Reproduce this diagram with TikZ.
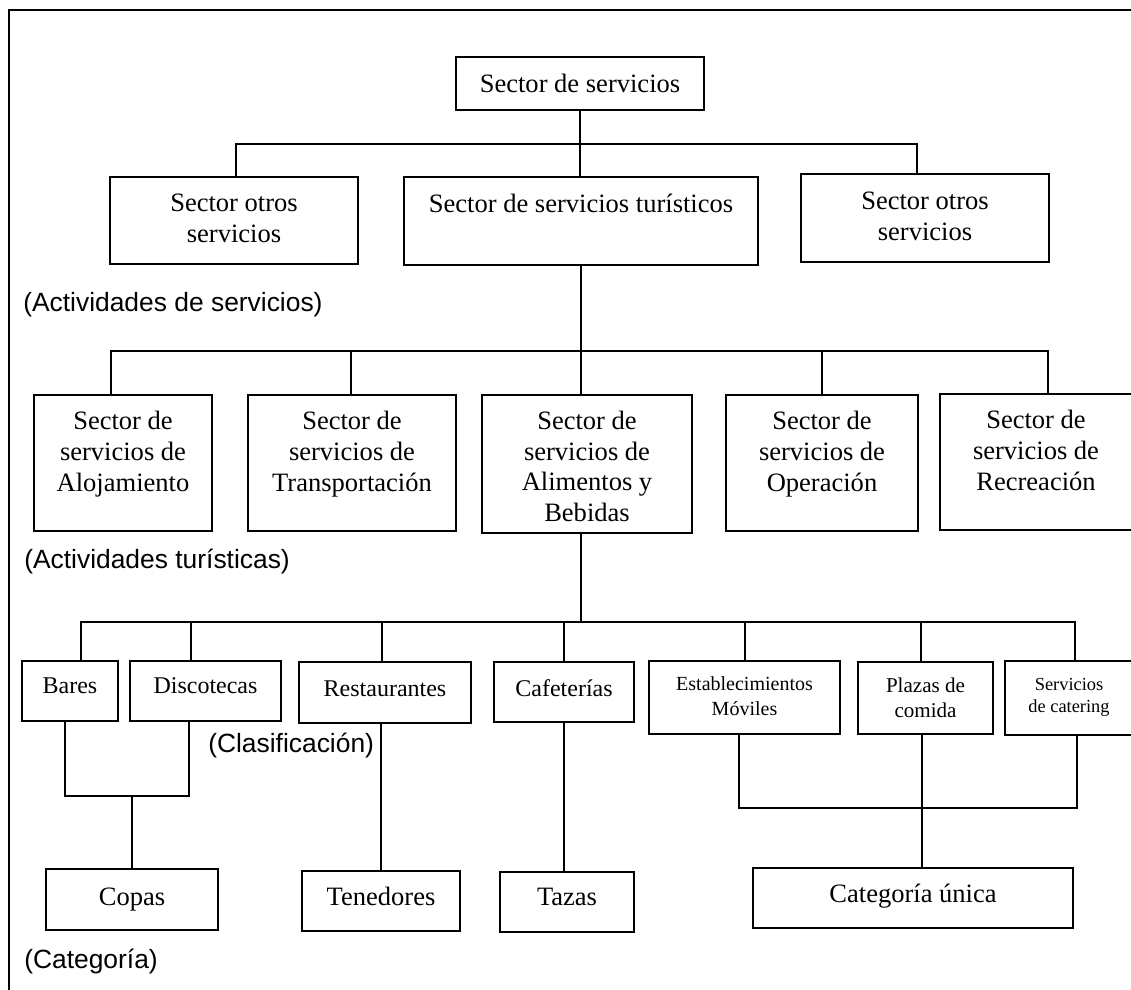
\documentclass[tikz,border=0pt]{standalone}
\usepackage{fontspec}
\setmainfont{Liberation Serif}
\setsansfont{Liberation Sans}
% a box given by its corners (in px units): name, x1, y1, x2, y2
\newcommand\cbox[5]{\node[box, minimum width={0.75pt*(#4-#2)}, minimum height={0.75pt*(#5-#3)}] (#1) at ({(#2+#4)/2},{(#3+#5)/2}) {};}
\begin{document}
\begin{tikzpicture}[x=0.75pt,y=-0.75pt,
  box/.style={draw, line width=0.8pt, inner sep=0pt},
  wire/.style={line width=1pt},
  frame/.style={line width=1.6pt},
  txt/.style={inner sep=0pt, align=center, anchor=base, font=\fontsize{19.9}{22.9}\selectfont},
  txtm/.style={txt, font=\fontsize{18}{20.7}\selectfont},
  txte/.style={txt, font=\fontsize{15}{18.75}\selectfont},
  txtp/.style={txt, font=\fontsize{15.8}{18.75}\selectfont},
  txtc/.style={txt, font=\fontsize{13.8}{16.5}\selectfont},
  note/.style={inner sep=0pt, anchor=base west, font=\sffamily\fontsize{19.8}{22.8}\selectfont}]
\useasboundingbox (0,0) rectangle (1131,989);
\clip (0,0) rectangle (1131,989);

% outer frame (runs past the page on the right and bottom)
\draw[frame] (9,10) rectangle (1200,1100);

% ---- boxes ----
\cbox{sds}{456}{57}{704}{110}
\cbox{otl}{110}{177}{358}{264}
\cbox{tur}{404}{177}{758}{265}
\cbox{otr}{801}{174}{1049}{262}

\cbox{alo}{34}{395}{212}{531}
\cbox{tra}{248}{395}{456}{531}
\cbox{ali}{482}{395}{692}{533}
\cbox{ope}{726}{395}{918}{531}
\cbox{rec}{940}{394}{1132}{530}

\cbox{bar}{22}{661}{118}{721}
\cbox{dis}{130}{661}{281}{721}
\cbox{res}{299}{662}{471}{723}
\cbox{caf}{494}{662}{634}{722}
\cbox{est}{649}{661}{840}{734}
\cbox{pla}{858}{662}{993}{734}
\cbox{cat}{1005}{661}{1133}{735}

\cbox{cop}{46}{869}{218}{930}
\cbox{ten}{302}{871}{460}{931}
\cbox{taz}{500}{872}{634}{932}
\cbox{uni}{753}{868}{1073}{928}

% ---- box texts (anchored at the baseline of the last line) ----
\node[txt] (sds-t) at (580,92) {Sector de servicios};
\node[txt] (otl-t) at (234,242.5) {Sector otros\\servicios};
\node[txt] (tur-t) at (581,212) {Sector de servicios turísticos};
\node[txt] (otr-t) at (925,240) {Sector otros\\servicios};

\node[txt] (alo-t) at (123,491) {Sector de\\servicios de\\Alojamiento};
\node[txt] (tra-t) at (352,491) {Sector de\\servicios de\\Transportación};
\node[txt] (ali-t) at (587,521.5) {Sector de\\servicios de\\Alimentos y\\Bebidas};
\node[txt] (ope-t) at (822,491) {Sector de\\servicios de\\Operación};
\node[txt] (rec-t) at (1036,490) {Sector de\\servicios de\\Recreación};

\node[txtm] (bar-t) at (70,693) {Bares};
\node[txtm] (dis-t) at (205.5,693) {Discotecas};
\node[txtm] (res-t) at (385,696) {Restaurantes};
\node[txtm] (caf-t) at (564,696) {Cafeterías};
\node[txte] (est-t) at (744.5,715) {Establecimientos\\Móviles};
\node[txtp] (pla-t) at (925.5,717) {Plazas de\\comida};
\node[txtc] (cat-t) at (1069,712) {Servicios\\de catering};

\node[txt] (cop-t) at (132,905) {Copas};
\node[txt] (ten-t) at (381,905) {Tenedores};
\node[txt] (taz-t) at (567,905) {Tazas};
\node[txt] (uni-t) at (913,902) {Categoría única};

% ---- level notes ----
\node[note] (n1) at (23,311) {(Actividades de servicios)};
\node[note] (n2) at (24,568) {(Actividades turísticas)};
\node[note] (n3) at (208,752) {(Clasificación)};
\node[note] (n4) at (24,968) {(Categoría)};

% ---- connectors: first level ----
\coordinate (b1l) at (236,144);
\coordinate (b1r) at (917,144);
\draw[wire] (b1l |- otl.north) -- (b1l) -- (b1r) -- (b1r |- otr.north);
\draw[wire] (sds.south) -- (sds.south |- tur.north);

% ---- connectors: second level ----
\coordinate (b2l) at (111,351);
\coordinate (b2t) at (351,351);
\coordinate (b2a) at (581,351);
\coordinate (b2o) at (822,351);
\coordinate (b2r) at (1048,351);
\draw[wire] (b2l |- alo.north) -- (b2l) -- (b2r) -- (b2r |- rec.north);
\draw[wire] (b2a |- tur.south) -- (b2a |- ali.north);
\draw[wire] (b2t) -- (b2t |- tra.north);
\draw[wire] (b2o) -- (b2o |- ope.north);

% ---- connectors: third level ----
\coordinate (b3l) at (81,622);
\coordinate (b3d) at (191,622);
\coordinate (b3s) at (382,622);
\coordinate (b3c) at (564,622);
\coordinate (b3a) at (581,622);
\coordinate (b3e) at (745,622);
\coordinate (b3p) at (921,622);
\coordinate (b3r) at (1075,622);
\draw[wire] (b3l |- bar.north) -- (b3l) -- (b3r) -- (b3r |- cat.north);
\draw[wire] (b3a |- ali.south) -- (b3a);
\draw[wire] (b3d) -- (b3d |- dis.north);
\draw[wire] (b3s) -- (b3s |- res.north);
\draw[wire] (b3c) -- (b3c |- caf.north);
\draw[wire] (b3e) -- (b3e |- est.north);
\draw[wire] (b3p) -- (b3p |- pla.north);

% ---- connectors: categories ----
\coordinate (g1l) at (65,796);
\coordinate (g1r) at (189,796);
\coordinate (g1m) at (132,796);
\draw[wire] (g1l |- bar.south) -- (g1l) -- (g1r) -- (g1r |- dis.south);
\draw[wire] (g1m) -- (g1m |- cop.north);
\draw[wire] (ten.north |- res.south) -- (ten.north);
\draw[wire] (caf.south) -- (caf.south |- taz.north);

\coordinate (g2l) at (739,808);
\coordinate (g2r) at (1077,808);
\coordinate (g2m) at (922,808);
\draw[wire] (g2l |- est.south) -- (g2l) -- (g2r) -- (g2r |- cat.south);
\draw[wire] (g2m |- pla.south) -- (g2m |- uni.north);
\end{tikzpicture}
\end{document}
